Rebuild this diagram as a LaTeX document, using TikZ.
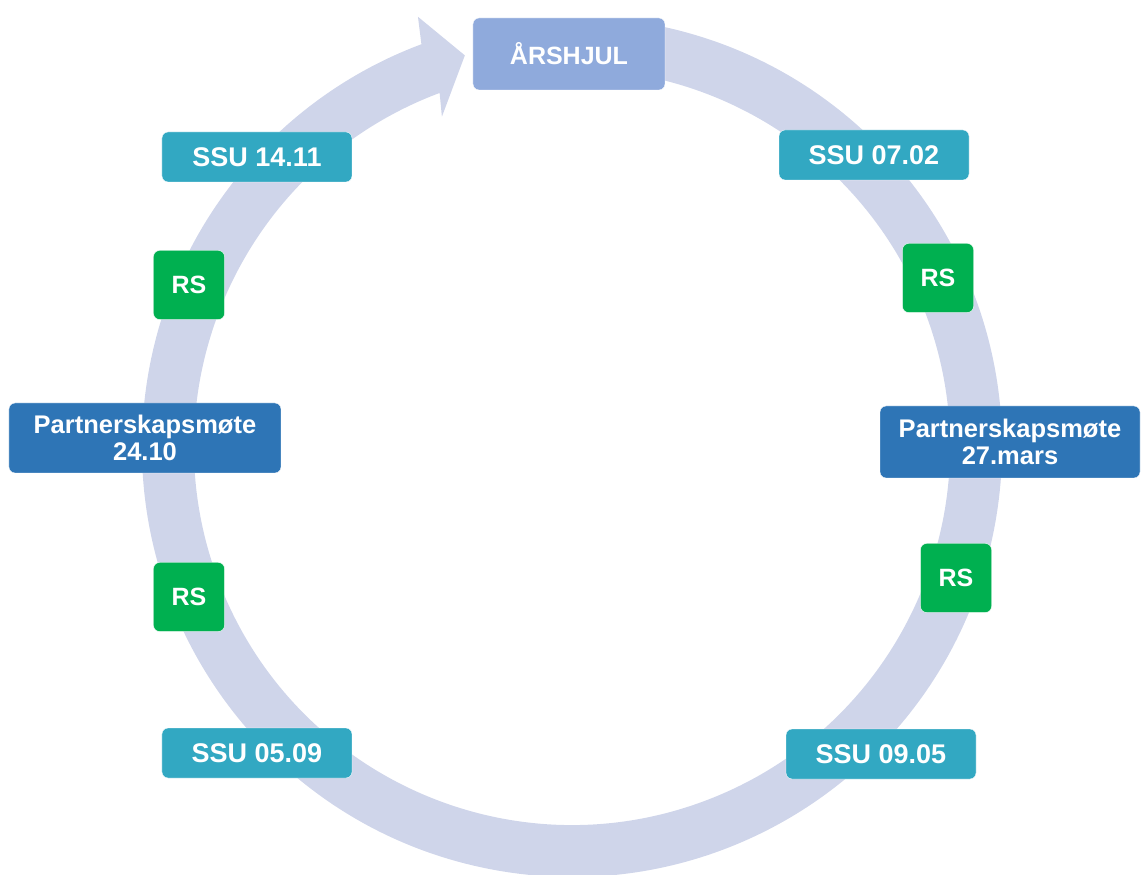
\documentclass[tikz,border=0pt]{standalone}
\usepackage{fontspec}
\setmainfont{Liberation Sans}
\definecolor{ringlav}{RGB}{207,213,234}
\definecolor{hjulblue}{RGB}{143,170,220}
\definecolor{ssuteal}{RGB}{50,168,194}
\definecolor{partblue}{RGB}{46,117,182}
\definecolor{rsgreen}{RGB}{0,176,80}
\tikzset{
  box/.style={rectangle, rounded corners=6pt, draw=white, thin, text=white,
    font=\bfseries\fontsize{25}{28}\selectfont},
  hjulbox/.style={box, fill=hjulblue, minimum width=192pt, minimum height=72pt},
  ssubox/.style={box, fill=ssuteal, minimum width=190pt, minimum height=50pt,
    font=\bfseries\fontsize{27}{30}\selectfont},
  rsbox/.style={box, fill=rsgreen, minimum width=71pt, minimum height=69pt},
  partbox/.style={box, fill=partblue, align=center, minimum height=72pt,
    font=\bfseries\fontsize{25.5}{27}\selectfont}
}
\begin{document}
\begin{tikzpicture}[x=1pt,y=1pt]
       \useasboundingbox (-572,-428) rectangle (569,447);
       \fill[ringlav] (80:430) arc[start angle=80, end angle=-249.5, radius=430]
            -- (109.7:457) -- (105.3:406) -- (111.5:355) -- (-249.5:378)
            arc[start angle=-249.5, end angle=80, radius=378] -- cycle;
       \node[hjulbox] (hjul)   at (  -3, 393) {ÅRSHJUL};
       \node[ssubox ] (ssufeb) at ( 302, 292) {SSU 07.02};
       \node[rsbox  ] (rsa)    at ( 366, 169) {RS};
       \node[partbox, minimum width=260pt] (partmar) at ( 438,   5) {Partnerskapsmøte\\27.mars};
       \node[rsbox  ] (rsb)    at ( 384,-131) {RS};
       \node[ssubox ] (ssumai) at ( 309,-307) {SSU 09.05};
       \node[ssubox ] (ssusep) at (-315,-306) {SSU 05.09};
       \node[rsbox  ] (rsc)    at (-383,-150) {RS};
       \node[partbox, minimum width=272pt, minimum height=70pt] (partokt) at (-427,   9) {Partnerskapsmøte\\24.10};
       \node[rsbox  ] (rsd)    at (-383, 162) {RS};
       \node[ssubox ] (ssunov) at (-315, 290) {SSU 14.11};
      \end{tikzpicture}
\end{document}
